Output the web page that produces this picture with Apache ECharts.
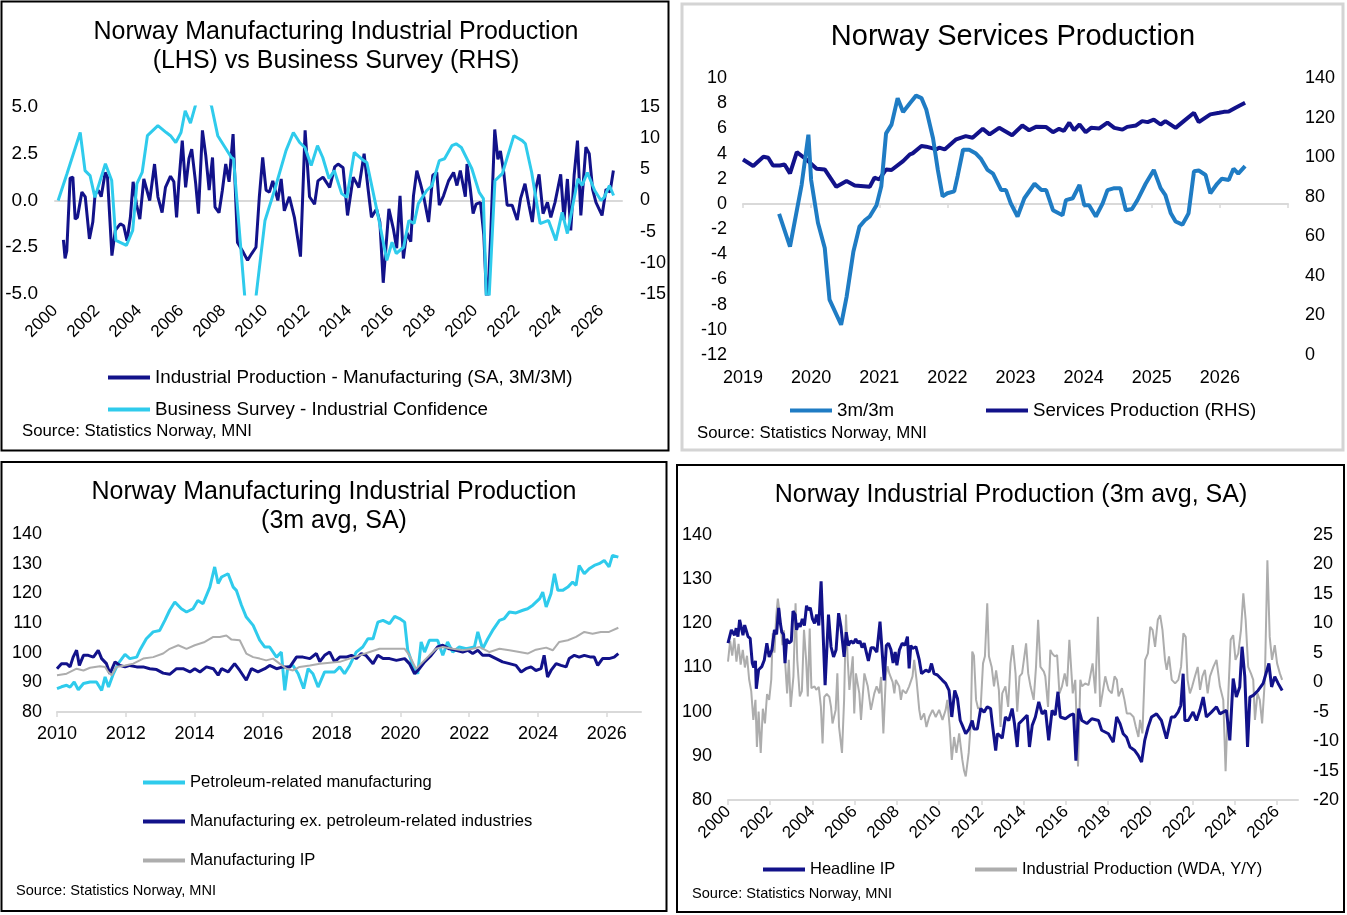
<!DOCTYPE html>
<html>
<head>
<meta charset="utf-8">
<script src="https://cdn.jsdelivr.net/npm/echarts@6/dist/echarts.min.js"></script>
<style>
  html, body { margin: 0; padding: 0; background: #fff; }
  #main { width: 1347px; height: 915px; }
</style>
</head>
<body>
<div id="main"></div>
<script>
// ---- panel A: manufacturing IP (LHS) vs business survey (RHS), decimal years ----
var ipMfgYears = [2000.40,2000.48,2000.56,2000.72,2000.85,2000.96,2001.07,2001.28,2001.44,2001.64,2001.80,2001.91,2002.07,2002.20,2002.39,2002.50,2002.71,2002.87,2003.11,2003.27,2003.43,2003.59,2003.72,2003.88,2004.04,2004.23,2004.51,2004.74,2004.90,2005.10,2005.26,2005.50,2005.66,2005.79,2005.90,2006.06,2006.22,2006.38,2006.51,2006.70,2006.83,2007.02,2007.18,2007.34,2007.50,2007.62,2007.81,2007.97,2008.13,2008.29,2008.48,2008.69,2008.93,2009.17,2009.36,2009.57,2009.73,2009.89,2010.05,2010.21,2010.37,2010.61,2010.77,2010.92,2011.16,2011.40,2011.69,2011.91,2012.12,2012.36,2012.52,2012.76,2013.08,2013.32,2013.48,2013.72,2013.93,2014.20,2014.47,2014.72,2014.91,2015.07,2015.31,2015.47,2015.63,2015.79,2015.90,2016.11,2016.27,2016.43,2016.59,2016.75,2016.94,2017.07,2017.23,2017.39,2017.55,2017.79,2017.99,2018.18,2018.30,2018.50,2018.74,2018.98,2019.14,2019.30,2019.54,2019.62,2019.78,2019.91,2020.05,2020.26,2020.42,2020.58,2020.74,2020.94,2021.09,2021.21,2021.37,2021.53,2021.77,2022.01,2022.17,2022.38,2022.57,2022.73,2022.89,2023.05,2023.24,2023.45,2023.61,2023.81,2024.08,2024.24,2024.40,2024.56,2024.72,2024.88,2025.04,2025.28,2025.44,2025.60,2025.76,2026.05,2026.24,2026.43,2026.59];
var ipMfgVals = [-2.1,-3.1,-2.7,1.2,1.25,-1.0,-0.9,0.45,0.2,-2.05,-1.15,0.35,0.55,0.2,1.5,1.25,-2.95,-1.6,-1.25,-1.35,-2.15,-0.9,1.0,-0.2,-1.0,1.15,0.0,1.95,0.2,-0.65,0.7,1.3,1.0,-0.9,1.0,3.2,0.7,2.25,2.75,0.9,-0.7,3.75,2.4,0.55,2.3,-0.35,-0.65,0.55,1.95,1.0,3.55,-2.25,-2.7,-3.2,-2.85,-2.5,0.2,2.3,0.55,0.45,1.05,0.0,1.15,-0.55,0.2,-0.9,-3.0,3.75,0.2,-0.2,1.05,1.25,0.7,1.8,1.95,1.75,-0.8,1.25,0.7,2.5,0.6,-0.9,-0.45,-1.15,-4.4,-2.05,-0.45,-1.5,-2.55,0.25,-3.1,-1.7,-2.2,0.25,1.6,0.95,0.25,-1.15,1.35,1.5,-0.25,0.25,1.05,1.5,0.8,1.6,0.2,1.95,0.6,-0.7,-0.2,-0.1,-1.85,-6.0,-2.05,3.8,2.2,2.65,1.5,-0.25,-0.25,-1.05,0.1,0.9,-0.25,-1.15,0.6,1.4,-0.7,-0.1,-0.9,-0.1,1.4,-1.05,1.15,-1.6,1.35,3.2,-0.8,2.85,2.5,0.6,-0.1,-0.8,0.6,0.45,1.6];
var surveyYears = [2000.15,2000.57,2001.20,2001.43,2001.67,2001.90,2002.40,2002.70,2002.90,2003.40,2003.70,2003.90,2004.15,2004.40,2004.90,2005.30,2005.50,2005.75,2006.00,2006.20,2006.45,2006.75,2007.15,2007.45,2007.75,2008.40,2008.50,2009.05,2009.55,2010.00,2010.45,2011.00,2011.35,2011.65,2011.90,2012.20,2012.50,2012.75,2013.05,2013.30,2013.65,2013.90,2014.25,2014.70,2014.85,2015.40,2015.80,2016.05,2016.25,2016.60,2016.85,2017.10,2017.30,2017.70,2017.95,2018.30,2018.55,2018.90,2019.10,2019.35,2019.85,2020.20,2020.40,2020.55,2020.65,2020.95,2021.30,2021.85,2022.25,2022.40,2022.70,2023.10,2023.50,2023.85,2024.15,2024.40,2024.90,2025.10,2025.35,2025.70,2026.00,2026.15,2026.40,2026.60];
var surveyVals = [0.0,4.3,10.9,4.8,4.0,0.5,5.9,3.2,-6.4,-7.2,-4.8,2.7,4.5,10.4,12.0,10.9,10.4,9.3,10.9,14.4,12.4,16.0,17.0,15.2,10.4,6.9,6.7,-16.0,-16.0,-3.2,1.6,8.0,10.9,9.3,8.5,5.6,8.8,6.9,3.5,4.8,1.1,0.5,7.7,6.4,6.1,-2.7,-9.6,-6.7,-8.5,-7.5,-3.2,-3.7,-0.5,1.6,2.4,6.4,6.7,8.8,9.1,8.5,5.1,1.3,0.3,-17.0,-17.0,3.2,4.3,10.4,9.6,9.1,4.5,-3.7,-3.2,-6.4,-1.9,-5.3,3.5,2.4,4.5,1.6,0.0,0.5,2.4,0.8];

// ---- panel B: services production ----
var mmYears = [2019.53,2019.69,2019.86,2019.96,2020.00,2020.10,2020.20,2020.27,2020.44,2020.52,2020.62,2020.71,2020.79,2020.86,2020.96,2021.03,2021.10,2021.18,2021.27,2021.35,2021.45,2021.54,2021.62,2021.69,2021.79,2021.86,2021.93,2022.00,2022.10,2022.15,2022.23,2022.32,2022.42,2022.49,2022.59,2022.67,2022.79,2022.86,2022.93,2023.03,2023.13,2023.28,2023.38,2023.45,2023.55,2023.69,2023.74,2023.84,2023.94,2024.01,2024.08,2024.18,2024.28,2024.35,2024.45,2024.54,2024.62,2024.71,2024.79,2024.91,2025.03,2025.13,2025.20,2025.28,2025.35,2025.45,2025.54,2025.62,2025.69,2025.79,2025.86,2025.96,2026.03,2026.13,2026.20,2026.27,2026.37];
var mmVals = [-0.8,-3.4,1.5,5.5,1.9,-1.5,-3.5,-7.6,-9.6,-7.4,-3.8,-1.8,-1.3,-1.0,-0.1,1.4,5.6,6.3,8.4,7.3,8.0,8.6,8.4,7.5,5.2,2.7,0.6,0.85,1.0,2.2,4.3,4.3,4.0,3.6,2.7,2.4,1.1,1.1,0.05,-1.0,0.45,1.6,1.1,1.1,-0.5,-0.9,0.3,0.45,1.5,-0.1,-0.1,-1.0,0.05,1.1,1.25,1.25,-0.5,-0.4,0.3,1.6,2.7,1.25,0.7,-0.75,-1.4,-1.65,-0.75,2.6,2.65,2.3,0.85,1.6,2.0,1.9,2.8,2.4,3.0];
var servYears = [2019.00,2019.15,2019.30,2019.37,2019.44,2019.54,2019.61,2019.69,2019.79,2019.93,2020.08,2020.20,2020.37,2020.52,2020.64,2020.86,2020.93,2021.00,2021.10,2021.18,2021.35,2021.45,2021.49,2021.62,2021.69,2021.84,2021.88,2021.96,2022.13,2022.27,2022.37,2022.52,2022.62,2022.76,2022.95,2023.10,2023.20,2023.30,2023.45,2023.55,2023.64,2023.71,2023.79,2023.86,2023.94,2024.03,2024.11,2024.23,2024.35,2024.45,2024.57,2024.64,2024.77,2024.86,2024.94,2025.03,2025.13,2025.20,2025.35,2025.47,2025.62,2025.69,2025.86,2025.99,2026.06,2026.13,2026.23,2026.37];
var servVals = [98.8,95.5,100.2,99.7,95.8,95.8,96.3,91.8,102.5,98.8,94.1,93.8,85.0,87.9,85.7,85.0,89.6,88.7,93.8,93.5,98.0,101.4,101.9,105.6,105.3,103.9,104.8,103.9,109.0,110.6,109.8,114.3,111.5,114.8,111.1,116.0,113.6,115.3,115.2,112.6,114.3,113.2,117.4,113.6,116.5,112.6,114.8,114.5,117.4,114.8,113.9,115.3,116.0,118.2,117.7,119.0,116.5,118.2,114.8,118.2,122.4,117.7,121.6,122.4,122.9,123.1,125.0,127.5];

// ---- panel C: manufacturing split ----
var petroYears = [2010.00,2010.13,2010.28,2010.38,2010.50,2010.62,2010.77,2010.96,2011.15,2011.30,2011.40,2011.50,2011.64,2011.78,2011.98,2012.12,2012.32,2012.41,2012.60,2012.80,2012.99,2013.14,2013.28,2013.43,2013.62,2013.77,2013.96,2014.10,2014.25,2014.45,2014.59,2014.69,2014.79,2014.98,2015.13,2015.22,2015.37,2015.51,2015.71,2015.90,2016.05,2016.19,2016.39,2016.53,2016.63,2016.72,2016.87,2017.02,2017.18,2017.31,2017.45,2017.60,2017.79,2018.08,2018.23,2018.37,2018.52,2018.71,2018.90,2019.05,2019.20,2019.34,2019.49,2019.68,2019.83,2019.97,2020.12,2020.21,2020.36,2020.50,2020.60,2020.70,2020.84,2021.08,2021.23,2021.37,2021.52,2021.71,2021.91,2022.15,2022.25,2022.39,2022.54,2022.68,2022.88,2023.02,2023.17,2023.36,2023.56,2023.70,2023.85,2024.05,2024.14,2024.24,2024.38,2024.48,2024.58,2024.72,2024.87,2025.01,2025.11,2025.20,2025.35,2025.49,2025.64,2025.78,2025.93,2026.07,2026.17,2026.34];
var petroVals = [87.9,88.5,89.0,88.4,90.1,87.5,89.6,90.1,90.1,87.3,91.8,88.4,92.9,96.3,99.4,98.0,98.5,100.8,104.7,107.0,107.5,110.9,114.3,117.1,114.8,113.7,114.8,117.6,116.5,122.1,128.9,123.3,125.5,126.6,122.1,121.0,116.0,112.0,109.2,104.2,101.9,101.9,98.5,100.2,87.3,95.2,95.7,92.9,87.9,94.6,92.9,88.4,93.5,93.5,95.2,92.9,95.7,100.2,101.9,104.7,104.7,110.3,110.9,109.8,112.2,111.5,110.3,100.8,95.7,92.9,103.6,100.2,104.2,104.2,99.1,103.6,100.2,101.9,101.3,101.9,107.0,101.3,104.7,107.5,110.9,111.5,113.7,113.4,114.3,114.8,116.0,118.2,120.4,115.4,119.9,126.6,121.0,121.0,122.1,123.8,122.7,129.4,126.6,128.3,129.4,130.0,131.1,128.9,132.8,132.2];
var exPetroYears = [2010.00,2010.13,2010.28,2010.38,2010.47,2010.57,2010.65,2010.77,2010.91,2011.06,2011.20,2011.30,2011.44,2011.54,2011.69,2011.83,2011.98,2012.12,2012.32,2012.51,2012.70,2012.90,2013.09,2013.28,2013.48,2013.67,2013.87,2014.01,2014.16,2014.35,2014.55,2014.69,2014.79,2014.98,2015.17,2015.32,2015.51,2015.66,2015.85,2016.05,2016.19,2016.39,2016.58,2016.78,2016.97,2017.16,2017.36,2017.55,2017.65,2017.79,2017.94,2018.08,2018.23,2018.42,2018.57,2018.71,2018.86,2018.99,2019.20,2019.34,2019.49,2019.68,2019.88,2020.12,2020.26,2020.41,2020.55,2020.70,2020.89,2021.08,2021.23,2021.42,2021.62,2021.81,2021.96,2022.10,2022.25,2022.39,2022.59,2022.78,2022.97,2023.17,2023.36,2023.51,2023.65,2023.80,2023.94,2024.09,2024.18,2024.28,2024.38,2024.53,2024.67,2024.82,2024.91,2025.06,2025.20,2025.35,2025.54,2025.64,2025.74,2025.88,2026.07,2026.22,2026.34];
var exPetroVals = [94.6,96.3,96.3,95.2,98.5,100.8,95.7,99.1,99.1,98.5,100.8,98.0,96.3,92.9,96.9,95.7,95.2,95.7,95.2,95.2,94.6,94.3,93.1,92.7,94.6,94.6,93.5,94.6,93.5,95.2,94.6,92.4,94.6,93.5,96.3,94.0,90.7,94.6,93.5,94.6,95.7,94.6,95.2,95.2,98.5,98.5,98.0,99.7,97.0,99.1,100.2,96.9,98.5,98.5,99.1,98.0,99.7,99.1,96.3,99.1,98.0,98.0,97.4,98.0,96.3,92.9,94.6,96.9,99.1,101.9,102.5,101.3,100.8,100.2,100.8,99.7,100.8,99.1,99.1,98.0,96.9,96.3,95.7,93.5,94.6,95.2,94.0,94.6,99.1,91.8,94.0,96.3,95.7,95.2,98.0,99.1,98.5,99.1,98.5,98.5,95.7,98.0,98.0,98.5,99.7];
var mfgIpYears = [2010.00,2010.28,2010.57,2010.77,2010.96,2011.25,2011.40,2011.49,2011.59,2011.73,2011.98,2012.22,2012.51,2012.80,2013.09,2013.28,2013.53,2013.77,2014.01,2014.30,2014.55,2014.74,2014.93,2015.08,2015.32,2015.51,2015.71,2015.90,2016.09,2016.29,2016.48,2016.68,2016.87,2017.06,2017.36,2017.65,2017.94,2018.23,2018.52,2018.81,2019.10,2019.39,2019.68,2020.12,2020.26,2020.45,2020.60,2020.84,2021.04,2021.23,2021.52,2021.81,2022.10,2022.30,2022.59,2022.88,2023.17,2023.46,2023.70,2023.94,2024.24,2024.43,2024.62,2024.87,2025.11,2025.35,2025.59,2025.83,2026.07,2026.34];
var mfgIpVals = [92.4,92.9,94.6,94.0,94.9,95.4,95.2,93.5,92.4,95.2,95.7,96.3,98.0,98.5,99.7,101.3,102.5,101.3,102.5,103.6,105.3,105.3,105.8,104.4,104.2,99.7,98.5,98.0,97.4,98.0,96.3,94.6,94.0,95.2,95.7,96.3,96.6,96.9,98.0,99.1,100.2,101.3,101.3,101.3,99.1,94.6,96.3,99.1,101.3,101.9,101.3,100.8,101.3,101.9,100.2,101.3,100.8,100.2,99.7,101.0,101.7,100.8,103.6,104.2,105.3,107.0,106.4,107.0,107.0,108.4];

// ---- panel D: headline IP (LHS) and IP WDA y/y (RHS) ----
var headYears = [2000.00,2000.16,2000.31,2000.39,2000.47,2000.55,2000.71,2000.79,2000.95,2001.05,2001.15,2001.22,2001.30,2001.34,2001.45,2001.60,2001.72,2001.84,2001.95,2002.08,2002.20,2002.30,2002.40,2002.48,2002.55,2002.63,2002.70,2002.78,2002.88,2003.00,2003.08,2003.18,2003.25,2003.33,2003.42,2003.52,2003.62,2003.72,2003.80,2003.90,2004.00,2004.10,2004.20,2004.30,2004.41,2004.60,2004.76,2004.88,2005.00,2005.12,2005.24,2005.35,2005.50,2005.60,2005.70,2005.82,2005.95,2006.05,2006.15,2006.25,2006.35,2006.45,2006.55,2006.65,2006.78,2006.90,2007.05,2007.20,2007.40,2007.50,2007.60,2007.72,2007.82,2007.92,2008.00,2008.12,2008.25,2008.38,2008.50,2008.58,2008.66,2008.74,2008.90,2009.06,2009.17,2009.37,2009.53,2009.64,2009.76,2009.92,2010.16,2010.31,2010.47,2010.60,2010.74,2010.87,2011.00,2011.10,2011.26,2011.42,2011.57,2011.65,2011.81,2011.97,2012.13,2012.28,2012.44,2012.52,2012.68,2012.76,2012.87,2012.99,2013.14,2013.30,2013.46,2013.57,2013.70,2013.78,2013.93,2014.17,2014.28,2014.41,2014.56,2014.72,2014.88,2015.04,2015.19,2015.35,2015.50,2015.63,2015.74,2015.98,2016.21,2016.37,2016.48,2016.61,2016.76,2017.00,2017.23,2017.55,2017.70,2018.02,2018.25,2018.41,2018.57,2018.72,2018.88,2019.04,2019.27,2019.43,2019.59,2019.74,2019.90,2020.06,2020.30,2020.53,2020.77,2021.00,2021.16,2021.32,2021.45,2021.56,2021.64,2021.80,2022.03,2022.19,2022.35,2022.51,2022.66,2022.90,2023.14,2023.30,2023.61,2023.77,2023.93,2024.08,2024.24,2024.35,2024.48,2024.61,2024.72,2024.88,2025.11,2025.35,2025.62,2025.75,2025.90,2026.06,2026.25];
var headVals = [115.5,118.5,117.3,118.9,117.0,120.8,117.3,119.6,117.0,116.6,111.0,110.0,111.5,105.2,109.5,110.2,111.7,115.5,112.4,114.0,118.5,117.5,123.5,120.0,118.0,117.5,111.0,116.5,115.5,116.0,122.8,122.0,118.5,120.0,119.2,121.0,119.5,124.0,123.0,123.5,121.0,120.0,122.0,119.5,129.5,106.0,122.0,114.7,112.4,114.0,122.3,119.2,112.4,118.0,115.0,116.0,115.5,116.5,115.5,116.0,114.5,115.5,113.5,111.5,114.5,114.5,113.5,120.4,107.1,115.0,115.5,114.0,111.0,113.5,110.5,114.0,115.5,115.0,117.0,109.8,115.0,114.3,114.7,111.7,108.6,109.4,109.0,110.9,108.6,108.3,107.1,106.4,104.8,98.8,104.8,103.0,98.0,96.9,95.0,96.1,98.0,96.1,96.1,100.7,99.9,101.1,100.7,97.3,91.2,95.0,94.6,94.0,98.8,98.0,100.7,97.3,92.0,97.3,98.0,99.2,92.0,96.9,98.8,102.2,99.5,100.3,93.5,100.3,99.2,104.5,98.8,98.4,99.2,99.5,88.9,100.7,98.0,97.3,98.4,98.0,95.8,95.0,93.1,98.8,97.3,95.0,94.2,92.0,91.2,90.1,88.6,93.5,96.5,98.8,99.5,98.0,93.9,98.8,98.8,99.9,101.4,108.6,98.0,98.0,99.9,98.0,100.3,103.3,98.8,99.9,101.1,99.5,100.3,93.5,107.5,103.3,105.6,114.7,108.0,92.0,103.3,103.7,104.8,106.4,110.9,105.6,107.9,106.4,104.8];
var yoyYears = [2000.00,2000.10,2000.20,2000.30,2000.40,2000.50,2000.60,2000.70,2000.80,2000.90,2001.00,2001.10,2001.20,2001.30,2001.37,2001.45,2001.55,2001.65,2001.75,2001.85,2001.95,2002.05,2002.12,2002.20,2002.28,2002.36,2002.45,2002.52,2002.58,2002.65,2002.72,2002.80,2002.88,2002.97,2003.10,2003.20,2003.28,2003.40,2003.50,2003.60,2003.70,2003.78,2003.87,2003.95,2004.10,2004.18,2004.30,2004.40,2004.48,2004.56,2004.68,2004.80,2004.88,2004.95,2005.10,2005.18,2005.26,2005.40,2005.50,2005.59,2005.67,2005.75,2005.91,2005.98,2006.06,2006.22,2006.30,2006.46,2006.62,2006.77,2006.93,2007.04,2007.17,2007.25,2007.36,2007.48,2007.56,2007.64,2007.80,2007.88,2007.95,2008.11,2008.19,2008.27,2008.43,2008.58,2008.74,2008.82,2008.93,2009.06,2009.14,2009.29,2009.40,2009.53,2009.69,2009.84,2010.00,2010.16,2010.31,2010.39,2010.50,2010.60,2010.71,2010.82,2010.95,2011.10,2011.18,2011.26,2011.40,2011.50,2011.57,2011.65,2011.75,2011.85,2011.97,2012.08,2012.17,2012.28,2012.36,2012.49,2012.60,2012.70,2012.83,2012.91,2012.99,2013.14,2013.27,2013.38,2013.49,2013.62,2013.70,2013.81,2013.93,2014.12,2014.22,2014.33,2014.48,2014.59,2014.69,2014.80,2014.96,2015.03,2015.16,2015.27,2015.35,2015.48,2015.59,2015.70,2015.82,2015.95,2016.06,2016.17,2016.33,2016.45,2016.58,2016.69,2016.77,2016.92,2017.08,2017.27,2017.40,2017.52,2017.63,2017.74,2017.87,2018.03,2018.18,2018.31,2018.42,2018.50,2018.66,2018.78,2018.89,2019.05,2019.21,2019.32,2019.44,2019.52,2019.63,2019.76,2019.89,2020.00,2020.11,2020.23,2020.36,2020.47,2020.58,2020.70,2020.78,2020.89,2021.02,2021.18,2021.33,2021.46,2021.57,2021.68,2021.77,2021.88,2021.99,2022.12,2022.25,2022.36,2022.47,2022.59,2022.72,2022.83,2022.99,2023.14,2023.30,2023.46,2023.57,2023.70,2023.81,2023.93,2024.04,2024.17,2024.30,2024.41,2024.52,2024.64,2024.77,2024.88,2024.96,2025.08,2025.19,2025.30,2025.43,2025.55,2025.66,2025.77,2025.90,2026.01,2026.14,2026.25];
var yoyVals = [3.5,7.0,4.5,7.5,3.5,6.5,3.0,5.5,2.5,4.5,0.5,-1.5,-6.4,-3.0,-11.0,-5.0,-12.0,-4.5,-7.0,-2.0,-3.0,0.5,8.3,5.0,11.1,14.2,11.7,8.8,6.3,8.8,2.7,-1.9,3.8,-4.2,1.0,13.4,3.8,-2.4,-1.5,8.9,3.8,-2.4,9.1,-1.0,-0.7,-1.3,-0.8,-4.2,-10.4,-2.5,-2.0,-2.5,-4.2,-7.0,-4.7,1.5,-7.6,-12.0,-3.0,11.5,3.8,-1.3,4.4,-5.3,1.5,-1.9,-6.4,1.5,-0.7,-4.7,-1.9,-0.7,-1.9,0.9,-8.7,1.2,2.7,1.5,0.0,-1.9,0.4,-0.7,-3.0,-1.3,-1.9,-0.7,1.0,3.8,0.4,-4.7,-6.4,-5.3,-7.6,-5.9,-4.7,-5.9,-4.7,-6.4,-4.7,-3.0,-7.6,-13.2,-9.3,-12.0,-8.7,-13.2,-15.0,-16.0,-12.0,-7.0,5.2,4.5,-3.0,-4.5,-4.2,3.2,4.4,13.4,4.4,2.6,-0.7,2.0,-1.3,-7.6,-1.9,-0.7,-4.2,3.2,6.3,1.5,-5.0,1.0,1.5,6.6,1.5,-0.7,-3.0,2.6,10.6,2.6,1.8,1.0,-4.2,5.5,4.9,4.4,4.6,-1.9,-0.7,1.5,-0.7,7.2,-1.9,0.4,-14.3,0.4,-0.7,-0.2,-0.5,3.2,-1.9,11.1,-4.2,-1.9,1.0,-1.3,-1.9,1.0,0.4,-2.4,-1.0,-3.0,-5.3,-5.3,-5.9,-7.6,-9.3,-6.4,-8.7,3.8,4.9,9.4,8.9,6.0,10.6,11.4,8.9,3.8,2.1,4.4,0.4,-0.2,0.4,2.6,8.3,7.7,0.4,-1.9,-0.7,1.0,2.6,-1.3,1.0,2.1,-1.9,1.0,2.6,3.8,-0.7,-3.0,-15.1,-1.9,7.2,8.0,3.8,4.9,8.9,15.1,10.6,2.6,1.5,0.4,-6.4,-1.9,-3.0,-7.0,0.4,20.7,7.7,3.8,6.3,3.2,1.5,0.4];

// tick labels
var yearsA = [2000,2002,2004,2006,2008,2010,2012,2014,2016,2018,2020,2022,2024,2026];
var yearsB = [2019,2020,2021,2022,2023,2024,2025,2026];
var yearsC = [2010,2012,2014,2016,2018,2020,2022,2024,2026];

var NAVY = '#12128a', CYAN = '#2fcbec', BLUE = '#1f7cc4', GREY = '#adadad', ZERO = '#d9d9d9';
var FONT = 'Liberation Sans';

function pairs(xs, ys) {
	var out = [];
	for (var i = 0; i < xs.length; i++) out.push([xs[i], ys[i]]);
	return out;
}
function yearFmt(v) { return String(v); }

function yAxis(grid, min, max, interval, pos, fmt, margin, size) {
	return {
		type: 'value', gridIndex: grid, min: min, max: max, interval: interval, position: pos,
		splitLine: {show: false}, axisLine: {show: false}, axisTick: {show: false},
		axisLabel: {color: '#000', fontFamily: FONT, fontSize: size || 18, margin: margin, formatter: fmt}
	};
}
function line(name, xs, ys, xi, yi, color, w, z) {
	return {
		name: name, type: 'line', xAxisIndex: xi, yAxisIndex: yi, data: pairs(xs, ys),
		symbol: 'none', showSymbol: false, clip: true, z: z || 2,
		lineStyle: {color: color, width: w}, itemStyle: {color: color}
	};
}
function legend(name, left, top, size) {
	return {
		data: [name], left: left, top: top, padding: 0, icon: 'rect',
		itemWidth: 42, itemHeight: 4, selectedMode: false,
		textStyle: {color: '#000', fontFamily: FONT, fontSize: size}
	};
}
function txt(s, x, y, size, align) {
	return {type: 'text', x: x, y: y, silent: true,
		style: {text: s, fill: '#000', fontFamily: FONT, fontSize: size, align: align || 'center', verticalAlign: 'middle'}};
}
function box(x, y, w, h, color, lw) {
	return {type: 'rect', silent: true, shape: {x: x, y: y, width: w, height: h},
		style: {fill: 'none', stroke: color, lineWidth: lw}};
}

var S_IP = 'Industrial Production - Manufacturing (SA, 3M/3M)';
var S_SURV = 'Business Survey - Industrial Confidence';
var S_MM = '3m/3m';
var S_SERV = 'Services Production (RHS)';
var S_PET = 'Petroleum-related manufacturing';
var S_EXP = 'Manufacturing ex. petroleum-related industries';
var S_MIP = 'Manufacturing IP';
var S_HEAD = 'Headline IP';
var S_YOY = 'Industrial Production (WDA, Y/Y)';

var option = {
	animation: false,
	backgroundColor: '#fff',
	grid: [
		{left: 55, top: 107, width: 567, height: 187},
		{left: 743, top: 78, width: 545, height: 277},
		{left: 57, top: 534, width: 584, height: 178},
		{left: 728, top: 535, width: 570, height: 265}
	],
	xAxis: [
		// 0,1: panel A (labels at the bottom, line at zero)
		{type: 'value', gridIndex: 0, min: 2000, max: 2027, interval: 2, position: 'bottom', splitLine: {show: false},
			axisLine: {show: false}, axisTick: {show: false},
			axisLabel: {color: '#000', fontFamily: FONT, fontSize: 17, rotate: 45, margin: 14, formatter: yearFmt, customValues: yearsA}},
		{type: 'value', gridIndex: 0, min: 2000, max: 2027, position: 'bottom', splitLine: {show: false},
			axisLine: {show: true, onZero: true, onZeroAxisIndex: 0, lineStyle: {color: ZERO, width: 2}},
			axisTick: {show: false}, axisLabel: {show: false}},
		// 2,3: panel B
		{type: 'value', gridIndex: 1, min: 2019, max: 2027, interval: 1, position: 'bottom', splitLine: {show: false},
			axisLine: {show: false}, axisTick: {show: false},
			axisLabel: {color: '#000', fontFamily: FONT, fontSize: 18, margin: 14, formatter: yearFmt, customValues: yearsB}},
		{type: 'value', gridIndex: 1, min: 2019, max: 2027, interval: 1, position: 'bottom', splitLine: {show: false},
			axisLine: {show: true, onZero: true, onZeroAxisIndex: 2, lineStyle: {color: ZERO, width: 2}},
			axisTick: {show: true, length: 4, lineStyle: {color: ZERO, width: 1.5}}, axisLabel: {show: false}},
		// 4: panel C
		{type: 'value', gridIndex: 2, min: 2010, max: 2027, interval: 2, position: 'bottom', splitLine: {show: false},
			axisLine: {show: true, onZero: false, lineStyle: {color: ZERO, width: 2}},
			axisTick: {show: true, length: 5, lineStyle: {color: ZERO, width: 1.5}, customValues: yearsC},
			axisLabel: {color: '#000', fontFamily: FONT, fontSize: 18, margin: 13, formatter: yearFmt, customValues: yearsC}},
		// 5: panel D
		{type: 'value', gridIndex: 3, min: 2000, max: 2027, interval: 2, position: 'bottom', splitLine: {show: false},
			axisLine: {show: true, onZero: false, lineStyle: {color: ZERO, width: 2}},
			axisTick: {show: true, length: 5, lineStyle: {color: ZERO, width: 1.5}, customValues: yearsA},
			axisLabel: {color: '#000', fontFamily: FONT, fontSize: 17, rotate: 45, margin: 9, formatter: yearFmt, customValues: yearsA}}
	],
	yAxis: [
		yAxis(0, -5, 5, 2.5, 'left', function (v) { return v.toFixed(1); }, 17, 19),
		yAxis(0, -15, 15, 5, 'right', null, 18, 18),
		yAxis(1, -12, 10, 2, 'left', null, 16, 18),
		yAxis(1, 0, 140, 20, 'right', null, 17, 18),
		yAxis(2, 80, 140, 10, 'left', null, 15, 18),
		yAxis(3, 80, 140, 10, 'left', null, 16, 18),
		yAxis(3, -20, 25, 5, 'right', null, 15, 18)
	],
	legend: [
		legend(S_IP, 108, 368, 18.8),
		legend(S_SURV, 108, 400, 18.8),
		legend(S_MM, 790, 401, 18.7),
		legend(S_SERV, 986, 401, 18.7),
		legend(S_PET, 143, 774, 16.6),
		legend(S_EXP, 143, 813, 16.6),
		legend(S_MIP, 143, 852, 16.6),
		legend(S_HEAD, 763, 861, 16.5),
		legend(S_YOY, 975, 861, 16.5)
	],
	series: [
		line(S_IP, ipMfgYears, ipMfgVals, 0, 0, NAVY, 3, 2),
		line(S_SURV, surveyYears, surveyVals, 0, 1, CYAN, 3, 3),
		line(S_SERV, servYears, servVals, 2, 3, NAVY, 4, 2),
		line(S_MM, mmYears, mmVals, 2, 2, BLUE, 4, 3),
		line(S_PET, petroYears, petroVals, 4, 4, CYAN, 3, 2),
		line(S_EXP, exPetroYears, exPetroVals, 4, 4, NAVY, 3, 3),
		line(S_MIP, mfgIpYears, mfgIpVals, 4, 4, GREY, 2, 4),
		line(S_YOY, yoyYears, yoyVals, 5, 6, GREY, 2, 2),
		line(S_HEAD, headYears, headVals, 5, 5, NAVY, 3, 3)
	],
	graphic: [
		box(1.5, 1.5, 667, 449, '#000', 2),
		box(682, 4, 1343 - 682, 446, '#d4d4d4', 3),
		box(1.5, 462, 665, 449, '#000', 2),
		box(677, 465, 667, 447, '#000', 2),
		txt('Norway Manufacturing Industrial Production', 336, 32, 25),
		txt('(LHS) vs Business Survey (RHS)', 336, 61, 25),
		txt('Norway Services Production', 1013, 37, 29),
		txt('Norway Manufacturing Industrial Production', 334, 492, 25),
		txt('(3m avg, SA)', 334, 521, 25),
		txt('Norway Industrial Production (3m avg, SA)', 1011, 495, 25),
		txt('Source: Statistics Norway, MNI', 22, 431, 16.8, 'left'),
		txt('Source: Statistics Norway, MNI', 697, 433, 16.8, 'left'),
		txt('Source: Statistics Norway, MNI', 16, 891, 14.6, 'left'),
		txt('Source: Statistics Norway, MNI', 692, 894, 14.6, 'left')
	]
};

var chart = echarts.init(document.getElementById('main'));
chart.setOption(option);
</script>
</body>
</html>
